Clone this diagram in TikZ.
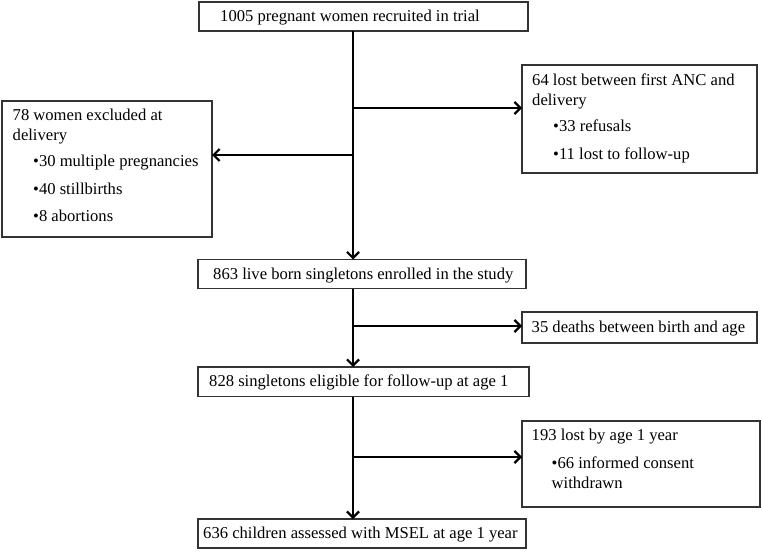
\documentclass[tikz,border=0pt]{standalone}
\usepackage{fontspec}
\setmainfont{Liberation Serif}
\usetikzlibrary{arrows.meta}
\begin{document}
\begin{tikzpicture}[x=1pt,y=-1pt,
  box/.style={draw=black!80, line width=1.3pt, inner sep=0pt, outer sep=0pt, anchor=north west},
  txt/.style={anchor=base west, inner sep=0pt, font=\fontsize{16.6}{20}\selectfont},
  arr/.style={line width=1.6pt, -{Straight Barb[length=6pt, width=12pt, line width=2.2pt]}}]
\useasboundingbox (0,0) rectangle (762,551);
% boxes
\node[box, minimum width=329pt, minimum height=29pt] (top) at (199,2) {};
\node[box, minimum width=235pt, minimum height=108pt] (b64) at (522,65) {};
\node[box, minimum width=210pt, minimum height=136pt] (b78) at (2,101) {};
\node[box, minimum width=328pt, minimum height=29pt] (b863) at (198,259.5) {};
\node[box, minimum width=235pt, minimum height=31pt] (b35) at (522,312) {};
\node[box, minimum width=331pt, minimum height=29.5pt] (b828) at (198,367) {};
\node[box, minimum width=238pt, minimum height=86pt] (b193) at (522,421) {};
\node[box, minimum width=328pt, minimum height=29pt] (b636) at (198,519) {};
% texts
\node[txt] (t1) at (220,21.5) {1005 pregnant women recruited in trial};
\node[txt] (t64a) at (532,85) {64 lost between first ANC and};
\node[txt] (t64b) at (532,105) {delivery};
\node[txt] (t64c) at (553,131) {•33 refusals};
\node[txt] (t64d) at (553,159) {•11 lost to follow-up};
\node[txt] (t78a) at (12.5,120) {78 women excluded at};
\node[txt] (t78b) at (12.5,140) {delivery};
\node[txt] (t78c) at (33,166.5) {•30 multiple pregnancies};
\node[txt] (t78d) at (33,194) {•40 stillbirths};
\node[txt] (t78e) at (33,221.5) {•8 abortions};
\node[txt] (t863) at (213,279) {863 live born singletons enrolled in the study};
\node[txt] (t35) at (531.5,332) {35 deaths between birth and age};
\node[txt] (t828) at (209,386) {828 singletons eligible for follow-up at age 1};
\node[txt] (t193a) at (531.5,440) {193 lost by age 1 year};
\node[txt] (t193b) at (551.5,468) {•66 informed consent};
\node[txt] (t193c) at (551.5,488) {withdrawn};
\node[txt] (t636) at (203,538.5) {636 children assessed with MSEL at age 1 year};
% connectors
\coordinate (v) at (353,0);
\coordinate (j1) at (353,108);
\coordinate (j2) at (353,155);
\coordinate (j3) at (353,326);
\coordinate (j4) at (353,457);
\draw[arr] (top.south -| v) -- (b863.north -| v);
\draw[arr] (j1) -- (j1 -| b64.west);
\draw[arr] (j2) -- (j2 -| b78.east);
\draw[arr] (b863.south -| v) -- (b828.north -| v);
\draw[arr] (j3) -- (j3 -| b35.west);
\draw[arr] (b828.south -| v) -- (b636.north -| v);
\draw[arr] (j4) -- (j4 -| b193.west);
\end{tikzpicture}
\end{document}
